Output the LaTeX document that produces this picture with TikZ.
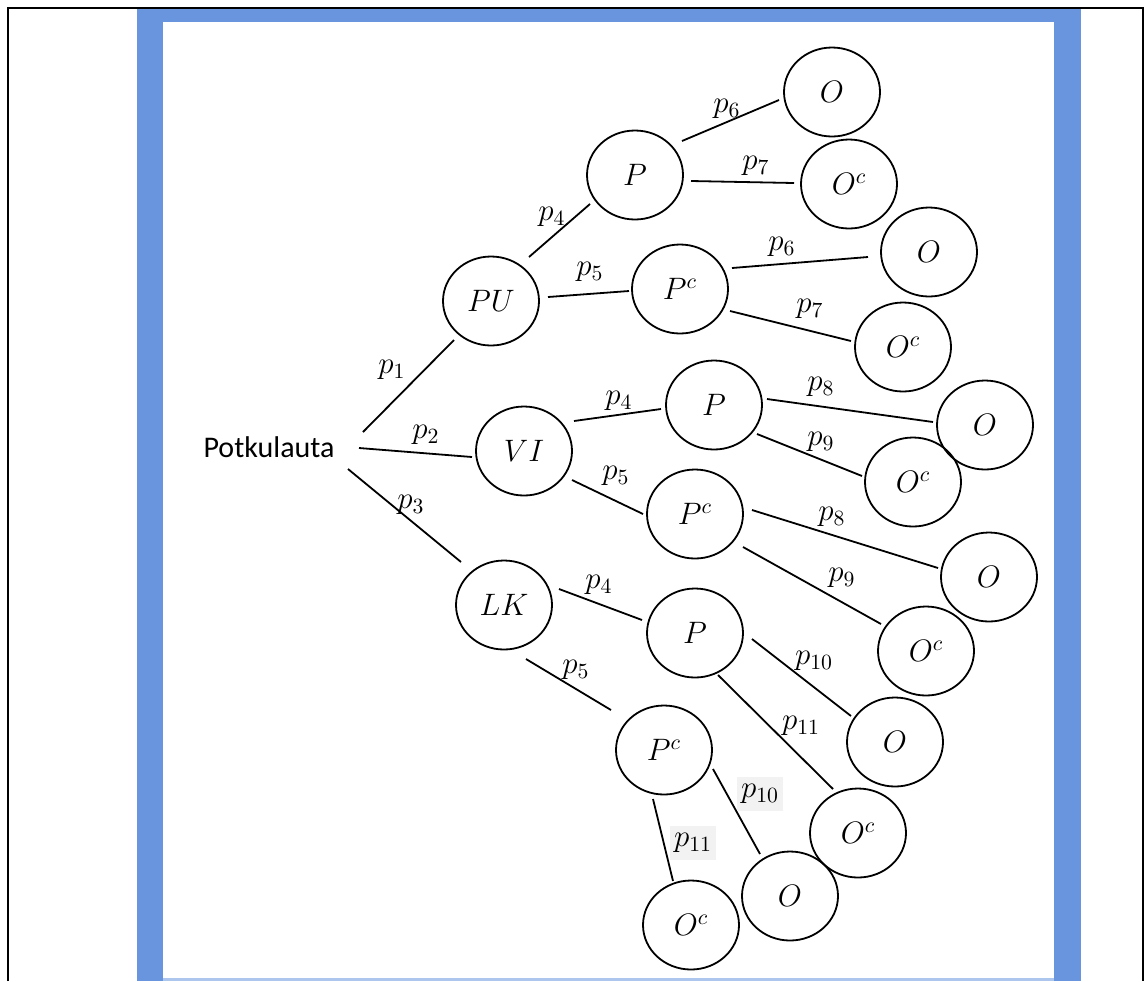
\RequirePackage{fix-cm}
\documentclass[tikz,border=0pt]{standalone}
\usepackage{fontspec}
\newfontfamily\rootfont{Carlito}
\usetikzlibrary{calc,shapes.geometric}

\definecolor{frameblue}{RGB}{104,149,221}
\definecolor{framebluelight}{RGB}{172,198,238}
\definecolor{labelshade}{RGB}{242,242,242}

\begin{document}
\begin{tikzpicture}[x={(0.5pt,0)}, y={(0,-0.5pt)},
  state/.style={ellipse, draw, line width=0.9pt, minimum width=48pt,
    minimum height=44.5pt, inner sep=0pt, font=\fontsize{15.5}{18}\selectfont},
  prob/.style={inner sep=0pt, font=\fontsize{15.5}{18}\selectfont},
  shadedprob/.style={prob, fill=labelshade, minimum width=23pt, minimum height=17pt},
  branch/.style={line width=0.9pt}]

% page, blue frame and outer rule
\useasboundingbox (0,0) rectangle (1145,981);
\fill[white] (0,0) rectangle (1145,981);
\fill[frameblue] (137,9) rectangle (1081,981);
\fill[framebluelight] (163,978) rectangle (1054,981);
\fill[white] (163,22) rectangle (1054,978);
\draw[line width=1pt] (8,981) -- (8,8) -- (1143,8) -- (1143,981);

% root
\node[anchor=base, inner sep=0pt, font=\rootfont\fontsize{15}{18}\selectfont] (root) at (269,457) {Potkulauta};

% first level
\node[state] (PU) at (491,301) {$PU$};
\node[state] (VI) at (524,451) {$VI$};
\node[state] (LK) at (504,605) {$LK$};

% second level
\node[state] (PUP)  at (635,175) {$P$};
\node[state] (PUPc) at (680,289) {$P^c$};
\node[state] (VIP)  at (714,405) {$P$};
\node[state] (VIPc) at (695,514) {$P^c$};
\node[state] (LKP)  at (695,633) {$P$};
\node[state] (LKPc) at (664,750) {$P^c$};

% leaves
\node[state] (O1)  at (832,92)  {$O$};
\node[state] (O2)  at (849,184) {$O^c$};
\node[state] (O3)  at (929,252) {$O$};
\node[state] (O4)  at (903,347) {$O^c$};
\node[state] (O5)  at (985,425) {$O$};
\node[state] (O6)  at (913,482) {$O^c$};
\node[state] (O7)  at (989,577) {$O$};
\node[state] (O8)  at (926,651) {$O^c$};
\node[state] (O9)  at (895,742) {$O$};
\node[state] (O10) at (858,833) {$O^c$};
\node[state] (O11) at (790,896) {$O$};
\node[state] (O12) at (691,925) {$O^c$};

% branches
\draw[branch] ($(root.base)+(94,-25)$) -- ($(PU)+(-37,39)$);
\draw[branch] ($(root.base)+(90,-9)$)  -- ($(VI)+(-52,6)$);
\draw[branch] ($(root.base)+(79,12)$)  -- ($(LK)+(-43,-43)$);

\draw[branch] ($(PU)+(38,-44)$) -- ($(PUP)+(-45,29)$);
\draw[branch] ($(PU)+(57,-4)$)  -- ($(PUPc)+(-51,2)$);
\draw[branch] ($(PUP)+(47,-34)$) -- ($(O1)+(-53,8)$);
\draw[branch] ($(PUP)+(56,6)$)   -- ($(O2)+(-55,-1)$);
\draw[branch] ($(PUPc)+(52,-21)$) -- ($(O3)+(-61,5)$);
\draw[branch] ($(PUPc)+(50,22)$)  -- ($(O4)+(-52,-6)$);

\draw[branch] ($(VI)+(50,-30)$) -- ($(VIP)+(-53,4)$);
\draw[branch] ($(VI)+(48,29)$)  -- ($(VIPc)+(-52,0)$);
\draw[branch] ($(VIP)+(53,-6)$) -- ($(O5)+(-52,-3)$);
\draw[branch] ($(VIP)+(43,29)$) -- ($(O6)+(-51,-6)$);
\draw[branch] ($(VIPc)+(57,-4)$) -- ($(O7)+(-51,-9)$);
\draw[branch] ($(VIPc)+(48,33)$) -- ($(O8)+(-45,-27)$);

\draw[branch] ($(LK)+(55,-16)$) -- ($(LKP)+(-53,-13)$);
\draw[branch] ($(LK)+(22,54)$)  -- ($(LKPc)+(-53,-40)$);
\draw[branch] ($(LKP)+(57,6)$)  -- ($(O9)+(-44,-26)$);
\draw[branch] ($(LKP)+(23,42)$) -- ($(O10)+(-25,-44)$);
\draw[branch] ($(LKPc)+(49,19)$) -- ($(O11)+(-30,-42)$);
\draw[branch] ($(LKPc)+(-11,49)$) -- ($(O12)+(-18,-44)$);

% branch probabilities
\node[prob] (q1)  at (392,370) {$p_1$};
\node[prob] (q2)  at (426,435) {$p_2$};
\node[prob] (q3)  at (411,505) {$p_3$};
\node[prob] (q4)  at (552,217) {$p_4$};
\node[prob] (q5)  at (590,272) {$p_5$};
\node[prob] (q6)  at (727,109) {$p_6$};
\node[prob] (q7)  at (756,166) {$p_7$};
\node[prob] (q8)  at (782,247) {$p_6$};
\node[prob] (q9)  at (810,309) {$p_7$};
\node[prob] (q10) at (619,401) {$p_4$};
\node[prob] (q11) at (616,476) {$p_5$};
\node[prob] (q12) at (821,387) {$p_8$};
\node[prob] (q13) at (821,442) {$p_9$};
\node[prob] (q14) at (832,517) {$p_8$};
\node[prob] (q15) at (842,578) {$p_9$};
\node[prob] (q16) at (599,585) {$p_4$};
\node[prob] (q17) at (576,670) {$p_5$};
\node[prob] (q18) at (814,661) {$p_{10}$};
\node[prob] (q19) at (801,726) {$p_{11}$};
\node[shadedprob] (q20) at (760,794) {$p_{10}$};
\node[shadedprob] (q21) at (693,843) {$p_{11}$};

\end{tikzpicture}
\end{document}
